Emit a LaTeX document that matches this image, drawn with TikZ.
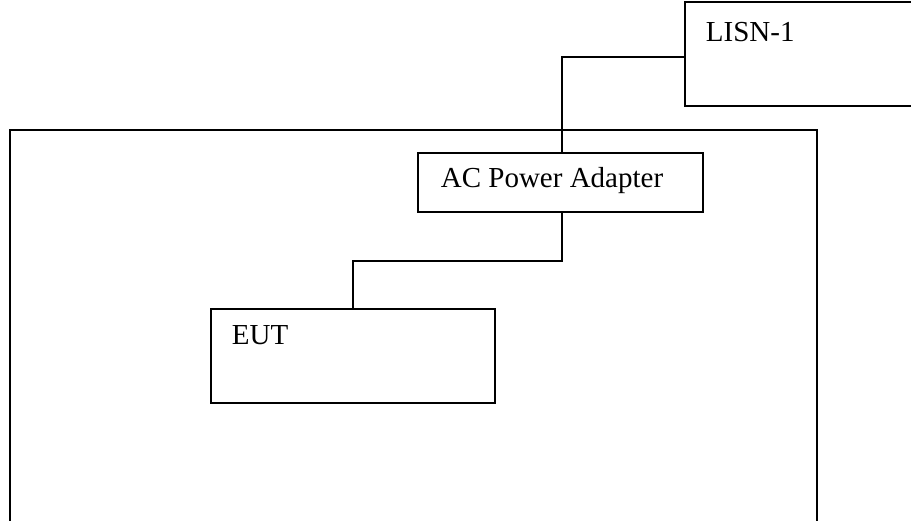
\documentclass[tikz,border=0pt]{standalone}
\usepackage{fontspec}
\setmainfont{Liberation Serif}
\begin{document}
\begin{tikzpicture}[x=0.5pt, y=-0.5pt, line width=0.9pt,
  box/.style={draw, rectangle, inner sep=0pt},
  lbl/.style={anchor=base west, inner sep=0pt, font=\fontsize{14.5}{17}\selectfont}]
\clip (0,0) rectangle (911,520);
% boxes
\node[box, minimum width=403.5pt, minimum height=215pt] (room) at (413.5,345) {};
\node[box, minimum width=137.5pt, minimum height=52pt] (lisn) at (822.5,54) {};
\node[box, fill=white, minimum width=142.5pt, minimum height=29.5pt] (adapter) at (560.5,182.5) {};
\node[box, minimum width=142pt, minimum height=47pt] (eut) at (353,356) {};
% labels
\node[lbl] (lisnlbl) at (705,41) {LISN-1};
\node[lbl] (adapterlbl) at (440,187) {AC Power Adapter};
\node[lbl] (eutlbl) at (231,344) {EUT};
% cables
\coordinate (bend) at (0,261);
\draw ([yshift=-1.5pt]lisn.west) -| ([xshift=0.75pt]adapter.north);
\draw ([xshift=0.75pt]adapter.south) |- (bend -| eut.north) -- (eut.north);
\end{tikzpicture}
\end{document}
